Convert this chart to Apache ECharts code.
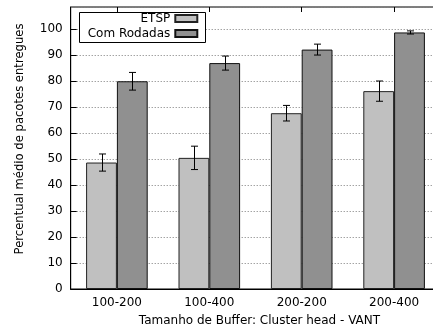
<!DOCTYPE html>
<html>
<head>
<meta charset="utf-8">
<script src="https://cdn.jsdelivr.net/npm/echarts@6/dist/echarts.min.js"></script>
<style>
  html, body { margin: 0; padding: 0; background: #fff; }
  #chart { width: 433px; height: 333px; }
</style>
</head>
<body>
<div id="chart"></div>
<script>
// Buffer size configurations (cluster head - VANT)
const categories = ['100-200', '100-400', '200-200', '200-400'];
const seriesNames = ['ETSP', 'Com Rodadas'];
// Mean delivered packets (%) and error-bar half widths
const etspValues = [48.7, 50.5, 67.7, 76.2];
const etspErrors = [3.3, 4.5, 3.0, 3.9];
const rodadasValues = [80.0, 87.0, 92.2, 98.8];
const rodadasErrors = [3.4, 2.7, 2.1, 0.6];
const yTicks = [0, 10, 20, 30, 40, 50, 60, 70, 80, 90, 100];

const FONT = 'DejaVu Sans';
const FS = 12;
const chart = echarts.init(document.getElementById('chart'), null, { renderer: 'canvas' });

// Draws a vertical error bar with caps, offset to the centre of the given bar
function errorBarRenderer(values, errors, side) {
  return function (params, api) {
    const i = api.value(0);
    const band = api.size([1, 0])[0];
    const offset = side * band / 6;
    const hi = api.coord([i, values[i] + errors[i]]);
    const lo = api.coord([i, values[i] - errors[i]]);
    const x = Math.round(hi[0] + offset) + 0.5;
    const cap = 3.5;
    const style = { stroke: '#000', lineWidth: 1 };
    return {
      type: 'group',
      children: [
        { type: 'line', shape: { x1: x, y1: hi[1], x2: x, y2: lo[1] }, style },
        { type: 'line', shape: { x1: x - cap, y1: hi[1], x2: x + cap, y2: hi[1] }, style },
        { type: 'line', shape: { x1: x - cap, y1: lo[1], x2: x + cap, y2: lo[1] }, style }
      ]
    };
  };
}

const idx = categories.map((c, i) => [i]);

const legendBase = {
  orient: 'vertical', align: 'right', icon: 'rect',
  right: 234.7, padding: 0,
  itemWidth: 22, itemHeight: 7, itemGap: 0,
  textStyle: { fontFamily: FONT, fontSize: FS, color: '#000' }
};

chart.setOption({
  animation: false,
  backgroundColor: '#fff',
  grid: {
    left: 70.7, right: -7.3, top: 7, bottom: 44,
    outerBoundsMode: 'none',
    show: true, borderColor: '#000', borderWidth: 1, backgroundColor: 'transparent',
    containLabel: false
  },
  legend: [
    Object.assign({ data: [seriesNames[0]], top: 12.5 }, legendBase),
    Object.assign({ data: [seriesNames[1]], top: 27.5 }, legendBase)
  ],
  graphic: [
    {
      type: 'rect', z: 3,
      shape: { x: 79.5, y: 12.5, width: 126, height: 30 },
      style: { fill: '#fff', stroke: '#000', lineWidth: 1 }
    },
    {
      type: 'text', z: 100,
      x: 19.5, y: 139, rotation: Math.PI / 2,
      style: {
        text: 'Percentual médio de pacotes entregues',
        fontFamily: FONT, fontSize: 11.6, fill: '#000',
        align: 'center', verticalAlign: 'middle'
      }
    }
  ],
  xAxis: [
    {
      type: 'category', data: categories, position: 'bottom',
      axisLine: { lineStyle: { color: '#000', width: 1 } },
      axisTick: { show: false },
      axisLabel: { fontFamily: FONT, fontSize: FS, color: '#000', margin: 8 },
      name: 'Tamanho de Buffer: Cluster head - VANT',
      nameLocation: 'middle', nameGap: 26,
      nameTextStyle: { fontFamily: FONT, fontSize: FS, color: '#000', padding: [0, 0, 0, 8] }
    },
    {
      type: 'category', data: categories, position: 'top',
      axisLine: { show: false },
      axisTick: { show: true, inside: true, length: 5, alignWithLabel: true, lineStyle: { color: '#000' } },
      axisLabel: { show: false }
    }
  ],
  yAxis: {
    type: 'value', min: 0, max: 108.6, interval: 10,
    axisLine: { show: true, lineStyle: { color: '#000', width: 1 } },
    axisTick: { show: true, inside: true, length: 6, lineStyle: { color: '#000' } },
    axisLabel: {
      fontFamily: FONT, fontSize: FS, color: '#000', margin: 8,
      showMaxLabel: false,
      formatter: v => (yTicks.indexOf(v) >= 0 ? String(v) : '')
    },
    splitLine: {
      show: true,
      lineStyle: { color: '#7a7a7a', width: 1, type: [1, 2] }
    }
  },
  series: [
    {
      name: seriesNames[0], type: 'bar', data: etspValues,
      barWidth: 30.8, barGap: '0%',
      itemStyle: { color: '#c0c0c0', borderColor: '#222', borderWidth: 1 }
    },
    {
      name: seriesNames[1], type: 'bar', data: rodadasValues,
      barWidth: 30.8, barGap: '0%',
      itemStyle: { color: '#909090', borderColor: '#111', borderWidth: 1 }
    },
    {
      type: 'custom', z: 5, data: idx, encode: { x: 0 },
      renderItem: errorBarRenderer(etspValues, etspErrors, -1),
      silent: true
    },
    {
      type: 'custom', z: 5, data: idx, encode: { x: 0 },
      renderItem: errorBarRenderer(rodadasValues, rodadasErrors, 1),
      silent: true
    }
  ]
});
</script>
</body>
</html>
